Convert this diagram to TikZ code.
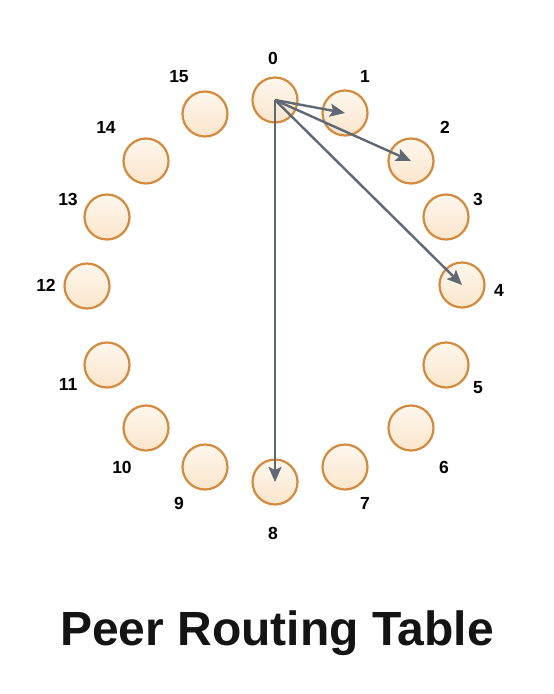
\documentclass[tikz,border=0pt]{standalone}
\usepackage{fontspec}
\setmainfont{Liberation Sans}
\usetikzlibrary{arrows.meta}
\definecolor{peerrim}{RGB}{212,138,60}
\definecolor{peertop}{RGB}{254,247,238}
\definecolor{peerbot}{RGB}{250,229,203}
\definecolor{linkgray}{RGB}{95,105,118}

\begin{document}
\begin{tikzpicture}[x=1pt, y=-1pt,
  peer/.style={draw=peerrim, circle, minimum size=45pt, inner sep=0pt, line width=2.2pt, top color=peertop, bottom color=peerbot},
  lbl/.style={font=\bfseries\fontsize{17.5}{17.5}\selectfont, inner sep=1pt},
  link/.style={draw=linkgray, line width=2.4pt, -{Stealth[length=15pt, width=13pt, inset=3pt]}}
]
  \useasboundingbox (0,0) rectangle (554,694);

  \node[peer] (p0)  at (275,100) {};
  \node[peer] (p1)  at (345,113) {};
  \node[peer] (p2)  at (411,161) {};
  \node[peer] (p3)  at (446,217) {};
  \node[peer] (p4)  at (462,285) {};
  \node[peer] (p5)  at (446,365) {};
  \node[peer] (p6)  at (411,428) {};
  \node[peer] (p7)  at (345,467) {};
  \node[peer] (p8)  at (275,482) {};
  \node[peer] (p9)  at (205,467) {};
  \node[peer] (p10) at (146,428) {};
  \node[peer] (p11) at (107,365) {};
  \node[peer] (p12) at (87,286)  {};
  \node[peer] (p13) at (107,217) {};
  \node[peer] (p14) at (146,161) {};
  \node[peer] (p15) at (205,114) {};

  \node[lbl] (l0)  at (273,58)  {0};
  \node[lbl] (l1)  at (365,76)  {1};
  \node[lbl] (l2)  at (445,127) {2};
  \node[lbl] (l3)  at (478,199) {3};
  \node[lbl] (l4)  at (499,290) {4};
  \node[lbl] (l5)  at (478,388) {5};
  \node[lbl] (l6)  at (444,467) {6};
  \node[lbl] (l7)  at (365,503) {7};
  \node[lbl] (l8)  at (273,533) {8};
  \node[lbl] (l9)  at (179,503) {9};
  \node[lbl] (l10) at (122,467) {10};
  \node[lbl] (l11) at (68,384)  {11};
  \node[lbl] (l12) at (46,285)  {12};
  \node[lbl] (l13) at (68,199)  {13};
  \node[lbl] (l14) at (106,127) {14};
  \node[lbl] (l15) at (179,77)  {15};

  \draw[link] (p0.center) -- (p1.center);
  \draw[link] (p0.center) -- (p2.center);
  \draw[link] (p0.center) -- (p4.center);
  \draw[link] (p0.center) -- (p8.center);

  \node[font=\bfseries\fontsize{48}{48}\selectfont, anchor=base, text=black!92] (title) at (277,645) {Peer Routing Table};
\end{tikzpicture}
\end{document}
